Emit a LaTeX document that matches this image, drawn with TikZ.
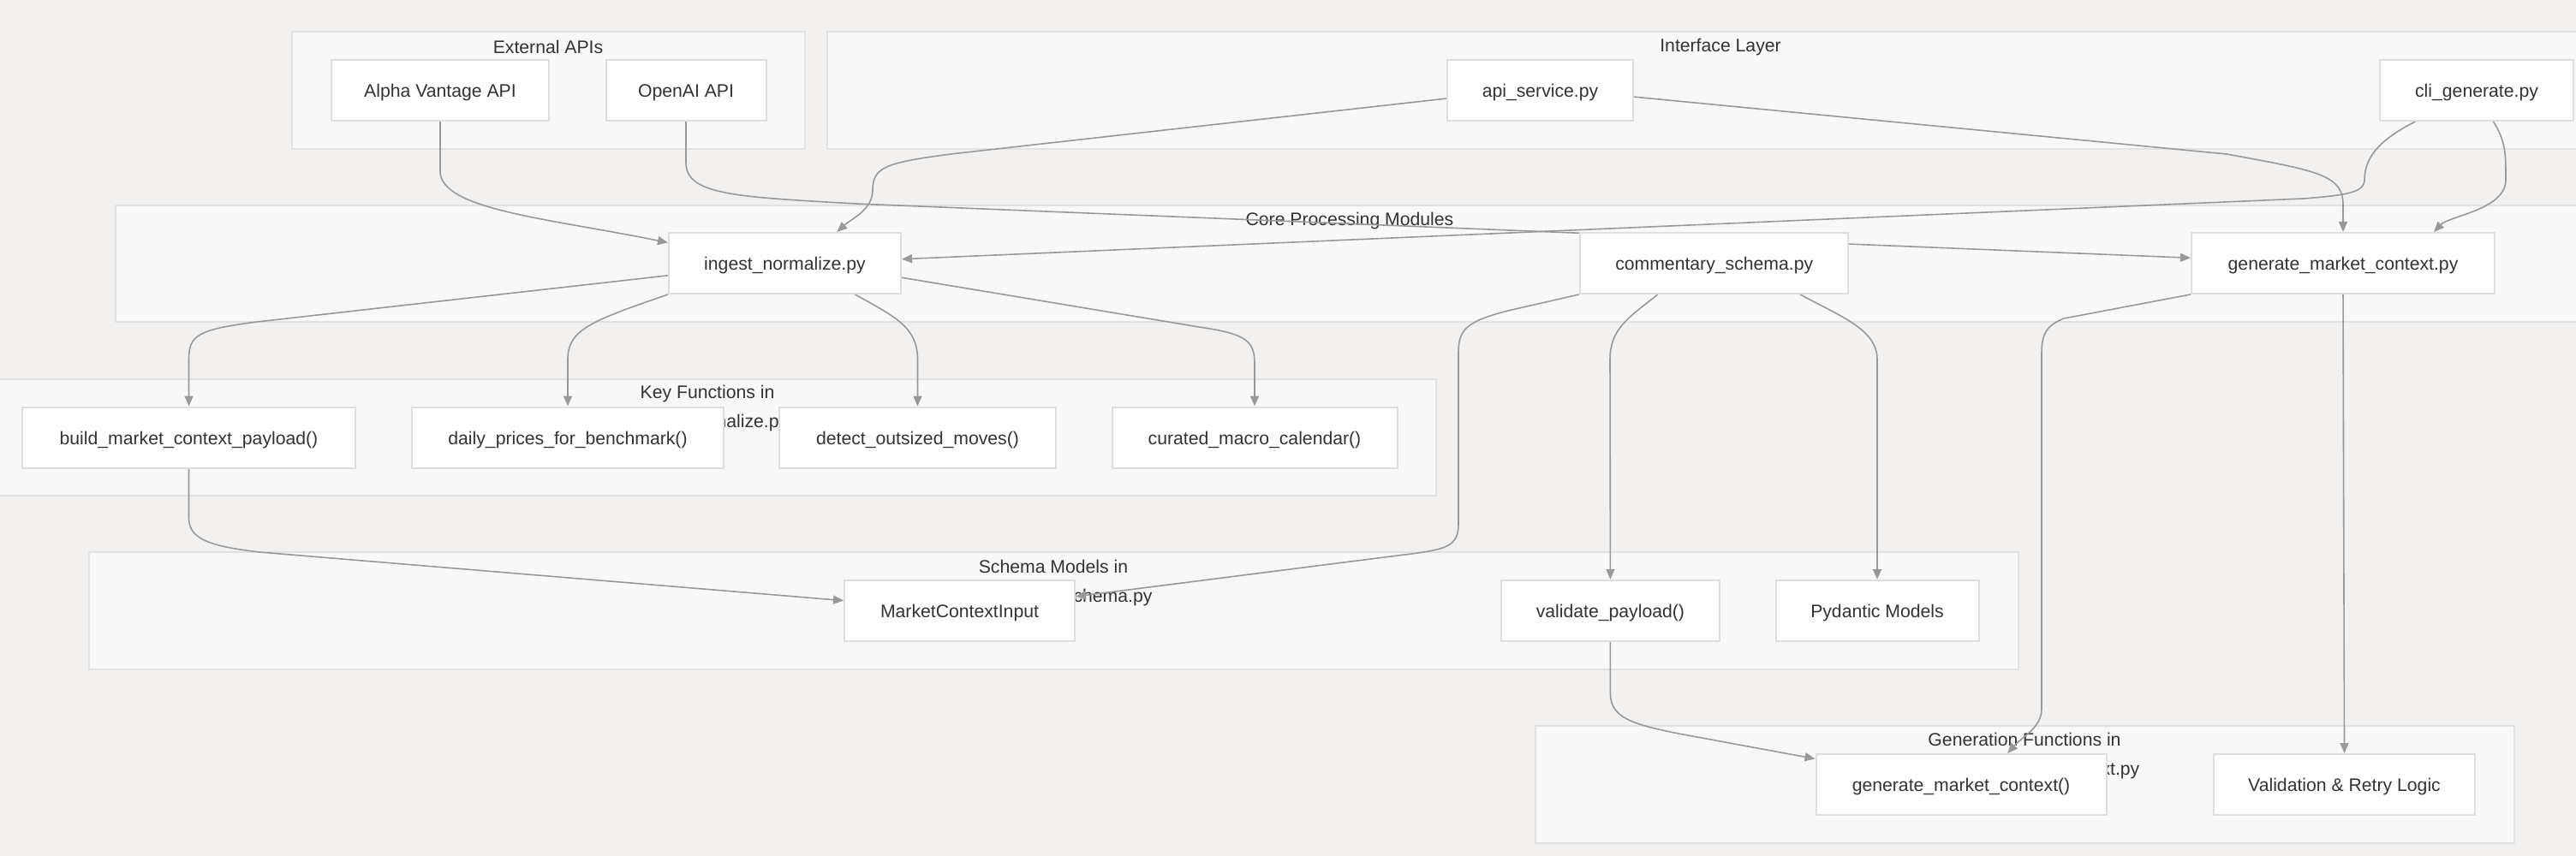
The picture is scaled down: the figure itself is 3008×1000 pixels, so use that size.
\documentclass[tikz,border=0pt]{standalone}
\usepackage{fontspec}
\setmainfont{Liberation Sans}
\usepackage{xcolor}
\usetikzlibrary{arrows.meta}
\definecolor{canvas}{HTML}{F2F1F0}
\definecolor{groupfill}{HTML}{F8F8F8}
\definecolor{groupline}{HTML}{E2E2E2}
\definecolor{boxline}{HTML}{DEDEDE}
\definecolor{wire}{HTML}{999999}
\definecolor{ink}{HTML}{333333}
\pgfdeclarelayer{back}
\pgfdeclarelayer{wires}
\pgfsetlayers{back,wires,main}
\tikzset{
    box/.style={draw=boxline, fill=white, line width=1pt, minimum height=35.5pt,
        inner sep=0pt, text height=8.2pt, text depth=0pt, text=ink,
        font=\fontsize{10.6}{12}\selectfont},
    modgroup/.style={draw=groupline, fill=groupfill, line width=1pt},
    grouptitle/.style={text=ink, align=center, inner sep=0pt,
        font=\fontsize{10.6}{17}\selectfont},
    flow/.style={draw=wire, line width=0.8pt, -{Triangle[length=6pt,width=5pt]}}
}

\begin{document}
\begin{tikzpicture}[x=0.5pt, y=-0.5pt]
                        \useasboundingbox (0,0) rectangle (3008,1000);

                        % groups
                        \begin{pgfonlayer}{back}
                        \fill[canvas] (0,0) rectangle (3008,1000);
                        \draw[modgroup] (341,37) rectangle (940,174);
                        \draw[modgroup] (966,37) rectangle (3052,174);
                        \draw[modgroup] (135,240) rectangle (3016,376);
                        \draw[modgroup] (-25,443) rectangle (1677,579);
                        \draw[modgroup] (104,645) rectangle (2357,782);
                        \draw[modgroup] (1793,848) rectangle (2936,985);

                        \node[grouptitle] (extTitle) at (640,55) {External APIs};
                        \node[grouptitle] (ifaceTitle) at (2009,55) {Interface Layer};
                        \node[grouptitle] (coreTitle) at (1576,258) {Core Processing Modules};
                        \node[grouptitle] (keyTitle) at (826,477) {Key Functions in\\ingest\_normalize.py};
                        \node[grouptitle] (schemaTitle) at (1230,681) {Schema Models in\\commentary\_schema.py};
                        \node[grouptitle] (genTitle) at (2364,883) {Generation Functions in\\generate\_market\_context.py};
                        \end{pgfonlayer}

                        % nodes
                        \node[box, minimum width=127pt] (alpha) at (514,105.5) {Alpha Vantage API};
                        \node[box, minimum width=93.5pt] (openai) at (801,105.5) {OpenAI API};
                        \node[box, minimum width=108.5pt] (apisvc) at (1798.5,105.5) {api\_service.py};
                        \node[box, minimum width=113pt] (cli) at (2892,105.5) {cli\_generate.py};

                        \node[box, minimum width=135.5pt] (ingest) at (916.5,307.5) {ingest\_normalize.py};
                        \node[box, minimum width=156.75pt] (comm) at (2001.7,307.5) {commentary\_schema.py};
                        \node[box, minimum width=177pt] (genmod) at (2736,307.5) {generate\_market\_context.py};

                        \node[box, minimum width=194.5pt] (build) at (220.5,511) {build\_market\_context\_payload()};
                        \node[box, minimum width=182pt] (daily) at (663,511) {daily\_prices\_for\_benchmark()};
                        \node[box, minimum width=161.5pt] (detect) at (1071.5,511) {detect\_outsized\_moves()};
                        \node[box, minimum width=166.5pt] (curated) at (1465,511) {curated\_macro\_calendar()};

                        \node[box, minimum width=134.5pt] (mci) at (1120.5,713.5) {MarketContextInput};
                        \node[box, minimum width=127.5pt] (validate) at (1880.4,713.5) {validate\_payload()};
                        \node[box, minimum width=118.5pt] (pydantic) at (2192,713.5) {Pydantic Models};

                        \node[box, minimum width=169.5pt] (genfn) at (2290,916.5) {generate\_market\_context()};
                        \node[box, minimum width=152.5pt] (retry) at (2737.5,916.5) {Validation \& Retry Logic};

                        % connectors
                        \begin{pgfonlayer}{wires}
                        \draw[flow] (alpha.south) -- (514,200) .. controls (514,245) and (640,255) .. (ingest.170);
                        \draw[flow] (openai.south) -- (801,190) .. controls (801,228) and (860,230) .. (1000,238) -- (genmod.178);
                        \draw[flow] (apisvc.185) -- (1110,180) .. controls (1035,190) and (1019,195) .. (1019,222)
                            .. controls (1019,245) and (995,255) .. (ingest.31);
                        \draw[flow] (apisvc.-4) -- (2600,180) .. controls (2710,200) and (2736,205) .. (2736,240) -- (genmod.north);
                        \draw[flow] (cli.207) .. controls (2785,160) and (2761,180) .. (2761,210)
                            .. controls (2761,225) and (2740,228) .. (2690,232) -- (ingest.2);
                        \draw[flow] (cli.-62) .. controls (2926,165) and (2926,180) .. (2926,210)
                            .. controls (2926,245) and (2860,252) .. (genmod.19);

                        \draw[flow] (ingest.186) -- (300,376) .. controls (230,385) and (220.5,392) .. (220.5,420) -- (build.north);
                        \draw[flow] (ingest.south west) .. controls (690,375) and (663,385) .. (663,420) -- (daily.north);
                        \draw[flow] (ingest.-24) .. controls (1045,370) and (1071.5,382) .. (1071.5,420) -- (detect.north);
                        \draw[flow] (ingest.-7) -- (1400,382) .. controls (1455,390) and (1465,398) .. (1465,425) -- (curated.north);

                        \draw[flow] (comm.south west) -- (1765,362) .. controls (1712,375) and (1703,385) .. (1703,412)
                            -- (1703,612) .. controls (1703,638) and (1690,642) .. (1640,648) -- (mci.7);
                        \draw[flow] (comm.-151) .. controls (1900,372) and (1880,385) .. (1880,420) -- (validate.north);
                        \draw[flow] (comm.-20) .. controls (2150,370) and (2192,385) .. (2192,420) -- (pydantic.north);
                        \draw[flow] (genmod.south west) -- (2410,372) .. controls (2390,380) and (2384,390) .. (2384,412)
                            -- (2384,828) .. controls (2384,850) and (2362,860) .. (genfn.34);
                        \draw[flow] (genmod.south) -- (retry.north);

                        \draw[flow] (build.south) -- (220.5,605) .. controls (220.5,630) and (245,638) .. (303,645) -- (mci.175);
                        \draw[flow] (validate.south) -- (1880.4,810) .. controls (1880.4,838) and (1905,846) .. (1960,857) -- (genfn.170);
                        \end{pgfonlayer}
                    \end{tikzpicture}
\end{document}
